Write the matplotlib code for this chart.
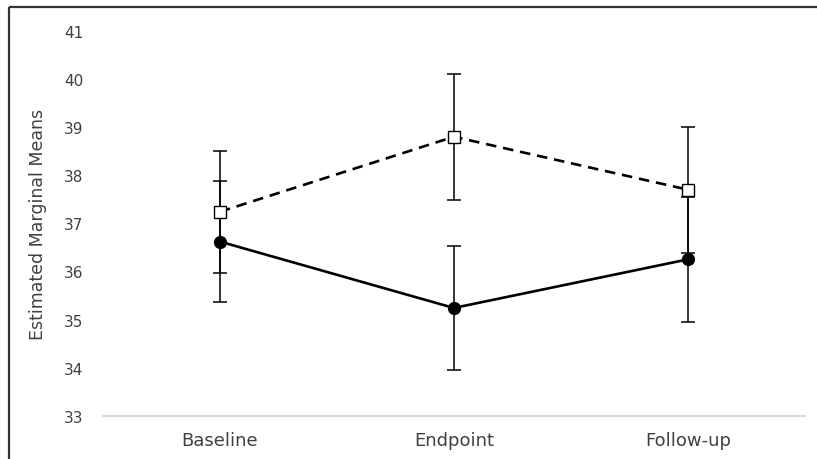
import matplotlib
matplotlib.use("Agg")
import matplotlib.pyplot as plt
from matplotlib.lines import Line2D

# estimated marginal means per time point
timepoints = ["Baseline", "Endpoint", "Follow-up"]
group_a_means = [37.24, 38.80, 37.70]   # open squares, dashed line
group_a_err = [1.27, 1.31, 1.31]
group_b_means = [36.62, 35.24, 36.25]   # filled circles, solid line
group_b_err = [1.26, 1.29, 1.30]
yticks = [33, 34, 35, 36, 37, 38, 39, 40, 41]

plt.rcParams['font.family'] = ['DejaVu Sans']
text_color = '#404040'

fig = plt.figure(figsize=(8.17, 4.6), dpi=100)
ax = fig.add_axes([0.126, 0.0941, 0.859, 0.8365])

x = list(range(len(timepoints)))

ax.errorbar(x, group_b_means, yerr=group_b_err, fmt='none', ecolor='black',
            elinewidth=1.1, capsize=5, capthick=1.1, zorder=2)
ax.errorbar(x, group_a_means, yerr=group_a_err, fmt='none', ecolor='black',
            elinewidth=1.1, capsize=5, capthick=1.1, zorder=2)

ax.plot(x, group_b_means, color='black', linewidth=1.9, marker='o',
        markersize=8.5, markerfacecolor='black', markeredgecolor='black', zorder=3)
ax.plot(x, group_a_means, color='black', linewidth=1.9, linestyle=(0, (4, 2.6)),
        marker='s', markersize=8, markerfacecolor='white',
        markeredgecolor='black', markeredgewidth=1.0, zorder=4)

ax.set_xlim(-0.5, 2.5)
ax.set_ylim(33, 41)
ax.set_xticks(x)
ax.set_xticklabels(timepoints, fontsize=13, color=text_color)
ax.set_yticks(yticks)
ax.set_yticklabels([str(t) for t in yticks], fontsize=11, color=text_color)
ax.tick_params(axis='y', length=0, pad=14)
ax.tick_params(axis='x', length=0, pad=11)
ax.set_ylabel("Estimated Marginal Means", fontsize=12.5, color=text_color, labelpad=12)

for side in ['top', 'right', 'left']:
    ax.spines[side].set_visible(False)
ax.spines['bottom'].set_color('#d9d9d9')
ax.spines['bottom'].set_linewidth(1.5)

# outer frame: top and left edges only
fx = 8.5 / 817
fy = 1 - 7.5 / 460
fig.lines.append(Line2D([fx, 1.05], [fy, fy], transform=fig.transFigure,
                        color='#333333', linewidth=1.6, solid_capstyle='butt'))
fig.lines.append(Line2D([fx, fx], [-0.05, fy], transform=fig.transFigure,
                        color='#333333', linewidth=1.6, solid_capstyle='butt'))

fig.savefig("out.png", dpi=100, facecolor='white')
